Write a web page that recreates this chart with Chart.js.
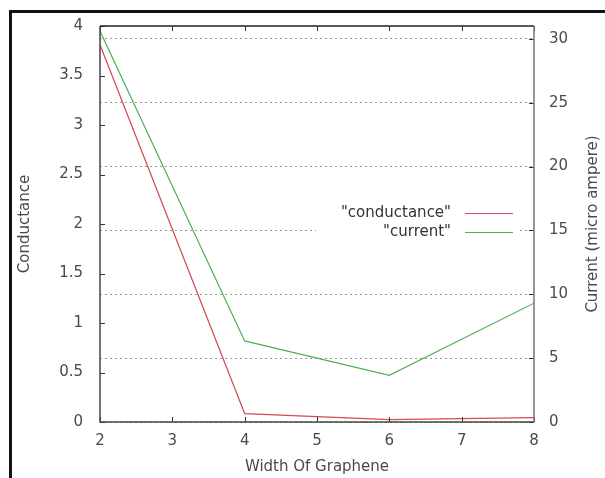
<!DOCTYPE html>
<html>
<head>
<meta charset="utf-8">
<script src="https://cdn.jsdelivr.net/npm/chart.js@4/dist/chart.umd.min.js"></script>
<style>
  html, body { margin: 0; padding: 0; background: #fff; }
  #wrap { position: relative; width: 605px; height: 478px; }
  #frame { position: absolute; left: 9px; top: 10px; right: 0; bottom: 0;
           border-top: 3px solid #111; border-left: 3px solid #111; pointer-events: none; }
</style>
</head>
<body>
<div id="wrap">
  <canvas id="c" width="605" height="478"></canvas>
  <div id="frame"></div>
</div>
<script>
var widths = [2, 4, 6, 8];
var conductance = [3.81, 0.085, 0.025, 0.045];
var current = [30.6, 6.35, 3.65, 9.3];
var currentTicks = [0, 5, 10, 15, 20, 25, 30];

var font = { family: 'DejaVu Sans', size: 15 };
var textColor = '#4a4a4a';

var gnuplotBits = {
    id: 'gnuplotBits',
    afterDatasetsDraw: function (chart) {
        var ctx = chart.ctx;
        var a = chart.chartArea;
        var x = chart.scales.x, y = chart.scales.y, y2 = chart.scales.y2;
        ctx.save();
        // inward tick marks
        ctx.strokeStyle = '#333';
        ctx.lineWidth = 1;
        ctx.beginPath();
        x.ticks.forEach(function (t) {
            var px = Math.round(x.getPixelForValue(t.value)) + 0.5;
            ctx.moveTo(px, a.bottom); ctx.lineTo(px, a.bottom - 5);
            ctx.moveTo(px, a.top); ctx.lineTo(px, a.top + 5);
        });
        y.ticks.forEach(function (t) {
            var py = Math.round(y.getPixelForValue(t.value)) + 0.5;
            ctx.moveTo(a.left, py); ctx.lineTo(a.left + 5, py);
        });
        y2.ticks.forEach(function (t) {
            var py = Math.round(y2.getPixelForValue(t.value)) + 0.5;
            ctx.moveTo(a.right, py); ctx.lineTo(a.right - 5, py);
        });
        ctx.stroke();
        // border
        ctx.lineWidth = 1.5;
        ctx.strokeStyle = '#222';
        ctx.beginPath();
        ctx.moveTo(a.left, a.top); ctx.lineTo(a.right, a.top);
        ctx.stroke();
        ctx.strokeStyle = '#444';
        ctx.beginPath();
        ctx.moveTo(a.left, a.top); ctx.lineTo(a.left, a.bottom); ctx.lineTo(a.right, a.bottom);
        ctx.stroke();
        ctx.strokeStyle = '#777';
        ctx.beginPath();
        ctx.moveTo(a.right, a.top); ctx.lineTo(a.right, a.bottom);
        ctx.stroke();

        // legend, gnuplot style: text then sample line
        var labels = chart.data.datasets;
        ctx.fillStyle = '#fff';
        ctx.fillRect(316, 200, 204, 42);
        ctx.font = '15px "DejaVu Sans"';
        ctx.textAlign = 'right';
        ctx.textBaseline = 'middle';
        labels.forEach(function (ds, i) {
            var ly = 213 + i * 19;
            ctx.fillStyle = '#333';
            ctx.fillText('"' + ds.label + '"', 451, ly);
            ctx.strokeStyle = ds.borderColor;
            ctx.lineWidth = 1;
            ctx.beginPath();
            ctx.moveTo(465, ly + 0.5); ctx.lineTo(513, ly + 0.5);
            ctx.stroke();
        });

        // right axis title, reading bottom to top
        ctx.translate(593, (a.top + a.bottom) / 2);
        ctx.rotate(-Math.PI / 2);
        ctx.textAlign = 'center';
        ctx.fillStyle = textColor;
        ctx.fillText('Current (micro ampere)', 0, 0);
        ctx.restore();
    }
};

new Chart(document.getElementById('c').getContext('2d'), {
    type: 'line',
    data: {
        labels: widths,
        datasets: [
            {
                label: 'conductance',
                data: conductance,
                yAxisID: 'y',
                borderColor: '#d44a55',
                borderWidth: 1.2,
                pointRadius: 0,
                tension: 0
            },
            {
                label: 'current',
                data: current,
                yAxisID: 'y2',
                borderColor: '#4fb24f',
                borderWidth: 1.2,
                pointRadius: 0,
                tension: 0
            }
        ]
    },
    options: {
        responsive: false,
        animation: false,
        layout: { padding: { top: 24, left: 0, right: 0, bottom: 0 } },
        plugins: { legend: { display: false }, tooltip: { enabled: false } },
        scales: {
            x: {
                type: 'linear',
                min: 2, max: 8,
                afterFit: function (s) { s.height = 56; },
                ticks: { stepSize: 1, color: textColor, font: font, padding: 10 },
                grid: { display: false, drawTicks: false },
                border: { display: false },
                title: { display: true, text: 'Width Of Graphene', color: textColor, font: font, padding: { top: 0, bottom: 2 } }
            },
            y: {
                position: 'left',
                min: 0, max: 4,
                afterFit: function (s) { s.width = 100; },
                ticks: {
                    stepSize: 0.5, color: textColor, font: font, padding: 17,
                    callback: function (v) { return String(v); }
                },
                grid: { display: false, drawTicks: false },
                border: { display: false },
                title: { display: true, text: 'Conductance', color: textColor, font: font, padding: { top: 16, bottom: 0 } }
            },
            y2: {
                position: 'right',
                min: 0, max: 31,
                afterFit: function (s) { s.width = 71; },
                afterBuildTicks: function (s) {
                    s.ticks = currentTicks.map(function (v) { return { value: v }; });
                },
                ticks: { color: textColor, font: font, padding: 15 },
                grid: { color: '#999', lineWidth: 1, drawTicks: false, tickLength: 0 },
                border: { display: false, dash: [2, 3] }
            }
        }
    },
    plugins: [gnuplotBits]
});
</script>
</body>
</html>
